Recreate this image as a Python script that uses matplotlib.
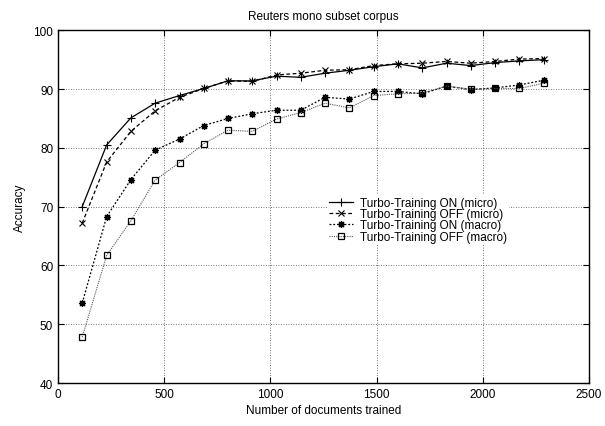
import matplotlib
matplotlib.use('Agg')
import matplotlib.pyplot as plt

# documents trained (x)
docs = [114, 229, 343, 457, 572, 686, 800, 914, 1029, 1143,
        1257, 1372, 1486, 1600, 1715, 1829, 1943, 2057, 2172, 2286]

on_micro = [70.0, 80.5, 85.1, 87.6, 88.9, 90.1, 91.4, 91.4, 92.2, 92.0,
            92.7, 93.2, 93.8, 94.3, 93.6, 94.4, 94.0, 94.5, 94.8, 95.0]
off_micro = [67.2, 77.6, 82.8, 86.3, 88.6, 90.1, 91.4, 91.3, 92.4, 92.7,
             93.2, 93.3, 94.0, 94.3, 94.4, 94.7, 94.4, 94.7, 95.1, 95.2]
on_macro = [53.6, 68.3, 74.6, 79.6, 81.5, 83.8, 85.0, 85.8, 86.4, 86.4,
            88.6, 88.3, 89.6, 89.6, 89.2, 90.5, 89.9, 90.2, 90.7, 91.5]
off_macro = [47.8, 61.7, 67.6, 74.5, 77.5, 80.7, 83.0, 82.8, 84.9, 86.0,
             87.6, 86.8, 88.9, 89.2, 89.3, 90.5, 90.0, 90.1, 90.1, 91.0]

plt.rcParams['font.family'] = ['Liberation Sans', 'DejaVu Sans']
fs = 8.5

fig = plt.figure(figsize=(6.05, 4.27), dpi=100)
ax = fig.add_axes([0.0959, 0.1007, 0.8777, 0.826])

ax.plot(docs, on_micro, color='black', lw=0.9, ls='-', marker='+', ms=5.5,
        mew=0.8, label='Turbo-Training ON (micro)')
ax.plot(docs, off_micro, color='black', lw=0.9, ls=(0, (3, 2)), marker='x', ms=4.5,
        mew=0.8, label='Turbo-Training OFF (micro)')
ax.plot(docs, on_macro, color='black', lw=0.9, ls=(0, (1.5, 1.5)), marker=(8, 2, 0),
        ms=5, mew=0.9, label='Turbo-Training ON (macro)')
ax.plot(docs, off_macro, color='#555555', lw=0.8, ls=(0, (1, 1)), marker='s', ms=4.3,
        mew=0.9, mec='black', mfc='none', label='Turbo-Training OFF (macro)')

ax.set_xlim(0, 2500)
ax.set_ylim(40, 100)
ax.set_xticks([0, 500, 1000, 1500, 2000, 2500])
ax.set_yticks([40, 50, 60, 70, 80, 90, 100])
ax.grid(True, color='black', ls=(0, (1, 2)), lw=0.6, alpha=0.7)
ax.tick_params(axis='both', direction='in', top=True, right=True,
               labelsize=fs, length=4, width=0.8)
for s in ax.spines.values():
    s.set_linewidth(1.0)

ax.set_title('Reuters mono subset corpus', fontsize=fs, pad=8)
ax.set_xlabel('Number of documents trained', fontsize=fs, labelpad=3)
ax.set_ylabel('Accuracy', fontsize=fs, labelpad=5)

leg = ax.legend(loc='upper left', bbox_to_anchor=(0.506, 0.535), frameon=True,
                fontsize=fs, handlelength=2.0, handletextpad=0.6,
                labelspacing=-0.05, borderpad=0.2, borderaxespad=0)
leg.get_frame().set_edgecolor('none')
leg.get_frame().set_facecolor('white')
leg.get_frame().set_alpha(1)

fig.savefig('out.png', dpi=100)
